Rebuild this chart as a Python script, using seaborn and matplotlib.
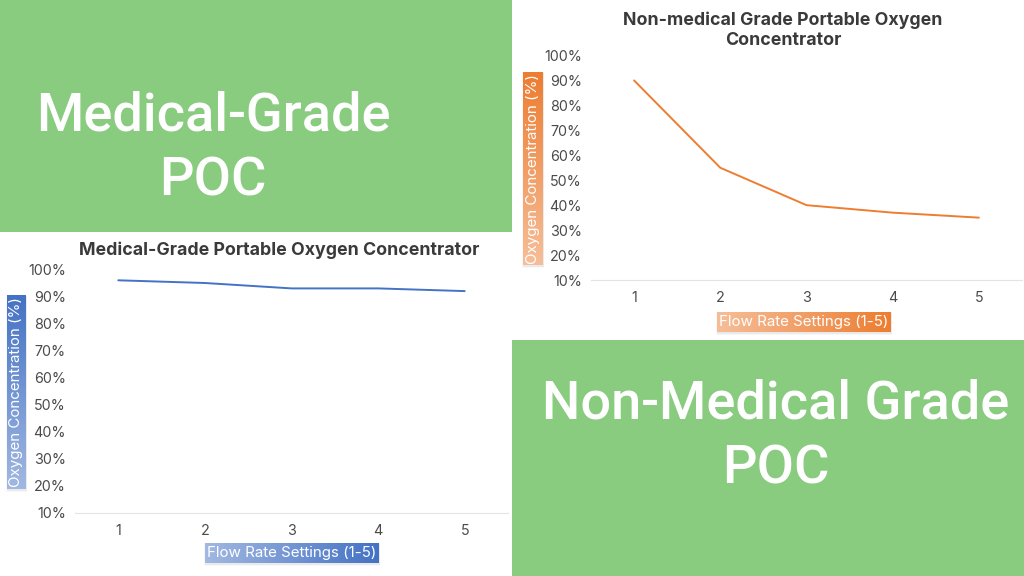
import numpy as np
import pandas as pd
import matplotlib
matplotlib.use("Agg")
import matplotlib.pyplot as plt
from matplotlib.colors import LinearSegmentedColormap
from matplotlib.patches import Rectangle
from matplotlib.ticker import PercentFormatter
import seaborn as sns

flow_settings = [1, 2, 3, 4, 5]
medical_values = [96, 95, 93, 93, 92]
non_medical_values = [90, 55, 40, 37, 35]
y_ticks = [10, 20, 30, 40, 50, 60, 70, 80, 90, 100]

medical_title = "Medical-Grade Portable Oxygen Concentrator"
non_medical_title = "Non-medical Grade Portable Oxygen\nConcentrator"
y_label = "Oxygen Concentration (%)"
x_label = "Flow Rate Settings (1-5)"

sns.set_theme(style="white")
plt.rcParams["font.family"] = ["Inter", "DejaVu Sans"]

W, H = 1024, 576
GREEN = "#89CC7F"
BLUE = "#4472C4"
ORANGE = "#ED7D31"
TEXT = "#4a4a4a"
TITLE = "#3a3a3a"

fig = plt.figure(figsize=(W / 100, H / 100), dpi=100, facecolor="white")

bg = fig.add_axes([0, 0, 1, 1], zorder=0)
bg.axis("off")
bg.add_patch(Rectangle((0, 0), 512, 232, color=GREEN, lw=0))
bg.add_patch(Rectangle((512, 340), 512, 236, color=GREEN, lw=0))

for cx, cy, txt in [
    (213, 116, "Medical-Grade"),
    (213, 181, "POC"),
    (776, 404, "Non-Medical Grade"),
    (776, 469, "POC"),
]:
    bg.text(cx, cy, txt, color="white", fontsize=39, family="Roboto",
            fontweight="medium", ha="center", va="center")


def label_box(x0, y0, x1, y1, text, color, vertical):
    cmap = LinearSegmentedColormap.from_list("g", ["#ffffff", color])
    # Dark end sits at the top of vertical boxes and the right of horizontal ones.
    if vertical:
        img = np.linspace(1.0, 0.5, 256)[:, None]
    else:
        img = np.linspace(0.5, 1.0, 256)[None, :]
    for grow, alpha in [(2.5, 0.05), (1, 0.10)]:
        bg.add_patch(Rectangle((x0 - grow / 2, y0 - grow / 2 + 1.5),
                               x1 - x0 + grow, y1 - y0 + grow,
                               color="#777777", alpha=alpha, lw=0, zorder=1.5))
    bg.imshow(img, extent=(x0, x1, y1, y0), cmap=cmap, vmin=0, vmax=1,
              aspect="auto", interpolation="bilinear", zorder=2)
    bg.text((x0 + x1) / 2, (y0 + y1) / 2, text, color="white",
            fontsize=10.9, rotation=90 if vertical else 0,
            ha="center", va="center", zorder=3)


def chart(x0, x1, ytop, ybot, values, color, xpad, ypad):
    ax = fig.add_axes([x0 / W, 1 - ybot / H, (x1 - x0) / W, (ybot - ytop) / H], zorder=1)
    ax.patch.set_alpha(0)
    df = pd.DataFrame({"flow": flow_settings, "oxygen": values})
    sns.lineplot(data=df, x="flow", y="oxygen", ax=ax, color=color, lw=1.4, errorbar=None)
    ax.set_xlim(0.5, 5.5)
    ax.set_ylim(10, 100)
    ax.set_xticks(flow_settings)
    ax.set_yticks(y_ticks)
    ax.yaxis.set_major_formatter(PercentFormatter(decimals=0))
    ax.set_xlabel("")
    ax.set_ylabel("")
    ax.tick_params(axis="both", length=0, labelsize=10.3, labelcolor=TEXT)
    ax.tick_params(axis="x", pad=xpad)
    ax.tick_params(axis="y", pad=ypad)
    for side in ("top", "right", "left"):
        ax.spines[side].set_visible(False)
    ax.spines["bottom"].set_color("#e4e4e4")
    ax.spines["bottom"].set_linewidth(0.8)
    return ax


chart(75, 508, 269.5, 512.5, medical_values, BLUE, 8, 6.5)
chart(591, 1022, 55.5, 280, non_medical_values, ORANGE, 8, 6.5)

bg.text(279.5, 250, medical_title, color=TITLE, fontsize=12.8, fontweight="bold",
        ha="center", va="center")
bg.text(783, 30.5, non_medical_title, color=TITLE, fontsize=12.8, fontweight="bold",
        ha="center", va="center", linespacing=1.2)

label_box(7, 295, 26, 489, y_label, BLUE, True)
label_box(205, 543, 379, 563, x_label, BLUE, False)
label_box(523, 72, 543, 265, y_label, ORANGE, True)
label_box(717, 312, 891, 332, x_label, ORANGE, False)

bg.set_xlim(0, W)
bg.set_ylim(H, 0)

fig.savefig("out.png", dpi=100, facecolor="white")
